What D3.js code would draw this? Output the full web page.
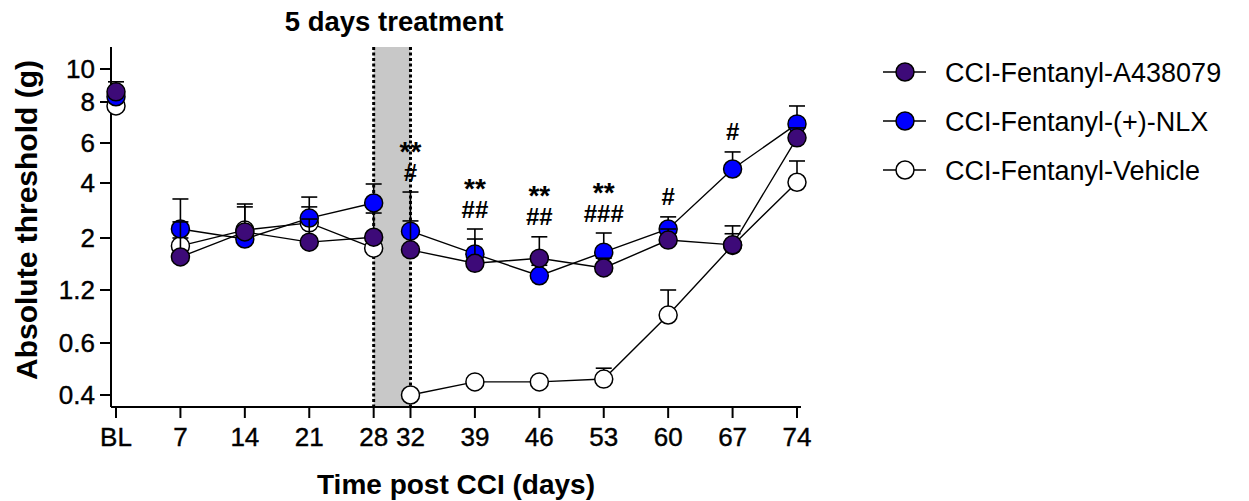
<!DOCTYPE html>
<html>
<head>
<meta charset="utf-8">
<script src="https://cdn.jsdelivr.net/npm/d3@7"></script>
<style>
  body { margin: 0; background: #fff; }
  text { font-family: "Liberation Sans", Arial, sans-serif; fill: #000; }
</style>
</head>
<body>
<div id="chart"></div>
<script>
// data (g)
var days = [0, 7, 14, 21, 28, 32, 39, 46, 53, 60, 67, 74];
var dayLabels = ["BL", "7", "14", "21", "28", "32", "39", "46", "53", "60", "67", "74"];
var yTicks = [0.4, 0.6, 1.2, 2, 4, 6, 8, 10];
var yMin = 0.365, yMax = 11.6;

var a438079Mean = [8.57, 1.66, 2.16, 1.92, 2.02, 1.78, 1.56, 1.64, 1.49, 1.96, 1.87, 6.22];
var a438079Sem  = [0.60, 0.79, 0.91, 0.62, 0.72, 1.79, 0.42, 0.39, 0.15, 0.28, 0.46, 0.45];
var nlxMean = [8.29, 2.24, 1.98, 2.57, 3.11, 2.18, 1.71, 1.38, 1.74, 2.24, 4.61, 6.86];
var nlxSem  = [0.39, 1.03, 0.29, 0.78, 0.84, 0.30, 0.53, 0.15, 0.39, 0.37, 0.87, 0.92];
var vehicleMean = [7.78, 1.85, 2.21, 2.42, 1.81, 0.40, 0.443, 0.443, 0.453, 0.865, 1.86, 4.03];
var vehicleSem  = [0.33, 0.15, 0.75, 0.54, 0.15, 0.01, 0.01, 0.01, 0.04, 0.335, 0.25, 0.97];

var starLabels = ["", "", "", "", "", "**", "**", "**", "**", "", "", ""];
var hashLabels = ["", "", "", "", "", "#", "##", "##", "###", "#", "#", ""];

// connected stretches of the curves (BL stands alone, break over the treatment)
var lineSegments = [[7, 28], [32, 74]];
var treatStart = 28, treatEnd = 32;

var series = [
    {name: "CCI-Fentanyl-Vehicle", mean: vehicleMean, sem: vehicleSem, fill: "#ffffff"},
    {name: "CCI-Fentanyl-(+)-NLX", mean: nlxMean, sem: nlxSem, fill: "#0000ff"},
    {name: "CCI-Fentanyl-A438079", mean: a438079Mean, sem: a438079Sem, fill: "#3d0a78"}
];
var legendOrder = [2, 1, 0];

// layout
var width = 1249, height = 501;
var axisLeft = 111, axisBottom = 407, axisTop = 47, axisRight = 801;
var yTickPx = [395, 343, 290, 238, 183, 143, 102, 69];
var r = 9;

var svg = d3.select("#chart").append("svg")
    .attr("width", width)
    .attr("height", height);

var x = d3.scaleLinear()
    .domain([0, 74])
    .range([116, 797]);

// piecewise axis as on the original (segments are not equally spaced)
var y = d3.scaleLog()
    .domain([yMin].concat(yTicks).concat([yMax]))
    .range([axisBottom].concat(yTickPx).concat([axisTop]));

// treatment band
svg.append("rect")
    .attr("x", x(treatStart))
    .attr("y", axisTop)
    .attr("width", x(treatEnd) - x(treatStart))
    .attr("height", axisBottom - axisTop)
    .attr("fill", "#c8c8c8");

[treatStart, treatEnd].forEach(function(d) {
    svg.append("line")
        .attr("x1", x(d)).attr("x2", x(d))
        .attr("y1", axisTop).attr("y2", axisBottom)
        .attr("stroke", "#000")
        .attr("stroke-width", 3)
        .attr("stroke-dasharray", "3,2.5");
});

svg.append("text")
    .attr("x", (x(treatStart) + x(treatEnd)) / 2 + 2)
    .attr("y", 31)
    .attr("text-anchor", "middle")
    .attr("font-size", 27.5)
    .attr("font-weight", "bold")
    .text("5 days treatment");

// axes
var xAxis = svg.append("g")
    .attr("transform", "translate(0," + axisBottom + ")");
xAxis.append("line")
    .attr("x1", axisLeft).attr("x2", axisRight)
    .attr("stroke", "#000").attr("stroke-width", 2);
xAxis.selectAll(".tick")
    .data(days)
  .enter().append("g")
    .attr("transform", function(d) { return "translate(" + x(d) + ",0)"; })
    .each(function(d, i) {
        var g = d3.select(this);
        g.append("line").attr("y2", 11).attr("stroke", "#000").attr("stroke-width", 2);
        g.append("text")
            .attr("y", 39)
            .attr("text-anchor", "middle")
            .attr("font-size", 26)
            .attr("stroke", "#000").attr("stroke-width", 0.4)
            .text(dayLabels[i]);
    });

var yAxis = svg.append("g")
    .attr("transform", "translate(" + axisLeft + ",0)");
yAxis.append("line")
    .attr("y1", axisTop).attr("y2", axisBottom)
    .attr("stroke", "#000").attr("stroke-width", 2);
yAxis.selectAll(".tick")
    .data(yTicks)
  .enter().append("g")
    .attr("transform", function(d) { return "translate(0," + y(d) + ")"; })
    .each(function(d) {
        var g = d3.select(this);
        g.append("line").attr("x2", -11).attr("stroke", "#000").attr("stroke-width", 2);
        g.append("text")
            .attr("x", -16)
            .attr("dy", "0.36em")
            .attr("text-anchor", "end")
            .attr("font-size", 26)
            .attr("stroke", "#000").attr("stroke-width", 0.4)
            .text(d);
    });

svg.append("text")
    .attr("transform", "translate(37,220) rotate(-90)")
    .attr("text-anchor", "middle")
    .attr("font-size", 30)
    .attr("font-weight", "bold")
    .text("Absolute threshold (g)");

svg.append("text")
    .attr("x", 456)
    .attr("y", 494)
    .attr("text-anchor", "middle")
    .attr("font-size", 28)
    .attr("font-weight", "bold")
    .text("Time post CCI (days)");

// series
var line = d3.line()
    .x(function(d) { return x(d.day); })
    .y(function(d) { return y(d.mean); });

series.forEach(function(s) {
    var pts = days.map(function(d, i) { return {day: d, mean: s.mean[i], sem: s.sem[i]}; });
    var g = svg.append("g");

    lineSegments.forEach(function(seg) {
        g.append("path")
            .datum(pts.filter(function(p) { return p.day >= seg[0] && p.day <= seg[1]; }))
            .attr("d", line)
            .attr("fill", "none")
            .attr("stroke", "#000")
            .attr("stroke-width", 1.4);
    });

    var err = g.selectAll(".err")
        .data(pts)
      .enter().append("g");
    err.append("line")
        .attr("x1", function(d) { return x(d.day); })
        .attr("x2", function(d) { return x(d.day); })
        .attr("y1", function(d) { return y(d.mean); })
        .attr("y2", function(d) { return y(d.mean + d.sem); })
        .attr("stroke", "#000").attr("stroke-width", 1.6);
    err.append("line")
        .attr("x1", function(d) { return x(d.day) - 8; })
        .attr("x2", function(d) { return x(d.day) + 8; })
        .attr("y1", function(d) { return y(d.mean + d.sem); })
        .attr("y2", function(d) { return y(d.mean + d.sem); })
        .attr("stroke", "#000").attr("stroke-width", 1.6);

    g.selectAll("circle")
        .data(pts)
      .enter().append("circle")
        .attr("cx", function(d) { return x(d.day); })
        .attr("cy", function(d) { return y(d.mean); })
        .attr("r", r)
        .attr("fill", s.fill)
        .attr("stroke", "#000")
        .attr("stroke-width", 1.5);
});

// significance marks, placed above the highest error bar of each day
days.forEach(function(d, i) {
    if (!hashLabels[i] && !starLabels[i]) return;
    var top = d3.min(series, function(s) { return y(s.mean[i] + s.sem[i]); });
    var hashC = top - 20;
    var t = svg.append("text")
        .attr("text-anchor", "middle")
        .attr("font-weight", "bold");
    if (starLabels[i]) {
        var starC = hashLabels[i] ? hashC - 27 : hashC;
        t.append("tspan").attr("x", x(d)).attr("y", starC + 15.5)
            .attr("font-size", 28).text(starLabels[i]);
    }
    if (hashLabels[i]) {
        t.append("tspan").attr("x", x(d)).attr("y", hashC + 8.5)
            .attr("font-size", 24).text(hashLabels[i]);
    }
});

// legend
var legend = svg.append("g");
legendOrder.forEach(function(k, j) {
    var s = series[k];
    var ly = 72 + j * 49;
    legend.append("line")
        .attr("x1", 883).attr("x2", 926)
        .attr("y1", ly).attr("y2", ly)
        .attr("stroke", "#000").attr("stroke-width", 1.5);
    legend.append("circle")
        .attr("cx", 905).attr("cy", ly).attr("r", r)
        .attr("fill", s.fill).attr("stroke", "#000").attr("stroke-width", 1.5);
    legend.append("text")
        .attr("x", 945).attr("y", ly)
        .attr("dy", "0.36em")
        .attr("font-size", 27)
        .text(s.name);
});
</script>
</body>
</html>
